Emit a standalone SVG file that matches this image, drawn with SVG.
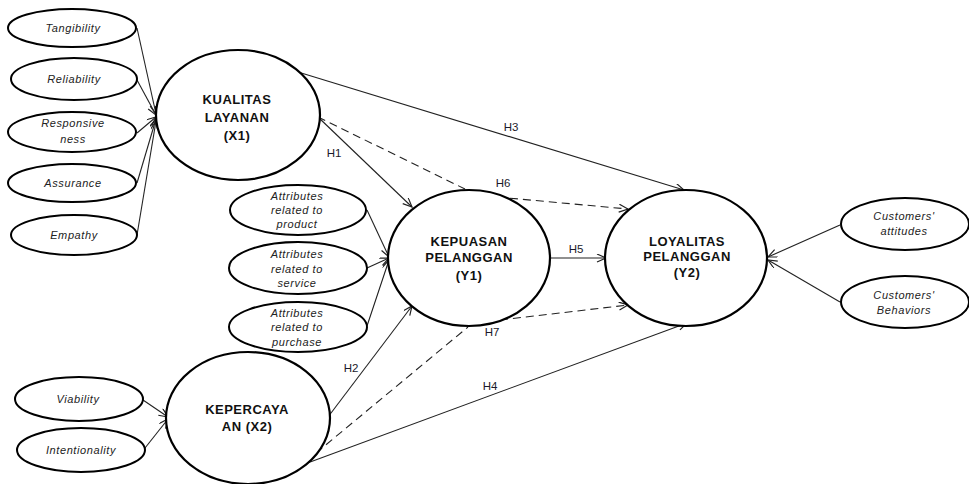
<svg xmlns="http://www.w3.org/2000/svg" width="969" height="484" viewBox="0 0 969 484">
<defs>
<marker id="arr" markerWidth="12" markerHeight="10" refX="10" refY="4" orient="auto" markerUnits="userSpaceOnUse">
<path d="M1,0 L10,4 L1,8" fill="none" stroke="#222" stroke-width="1.2"/>
</marker>
<style>
.big{fill:#fff;stroke:#000;stroke-width:2.2}
.sm{fill:#fff;stroke:#000;stroke-width:2}
.lbl{font-family:"Liberation Sans",Arial,sans-serif;font-size:13px;font-weight:bold;fill:#111;text-anchor:middle;letter-spacing:0.5px}
.ind{font-family:"Liberation Sans",Arial,sans-serif;font-size:11px;font-style:italic;fill:#222;text-anchor:middle;letter-spacing:0.6px}
.h{font-family:"Liberation Sans",Arial,sans-serif;font-size:11.5px;fill:#1a1a2a;text-anchor:middle}
.c{stroke:#222;stroke-width:1.1;fill:none}
.a{marker-end:url(#arr)}
.d{stroke-dasharray:8,5}
</style>
</defs>
<rect width="969" height="484" fill="#fff"/>

<g id="connectors">
<line class="c a" x1="137" y1="28" x2="156" y2="114"/>
<line class="c a" x1="137" y1="80" x2="156" y2="115"/>
<line class="c a" x1="137" y1="133" x2="156" y2="117"/>
<line class="c a" x1="137" y1="183" x2="156" y2="119"/>
<line class="c a" x1="137" y1="235" x2="156" y2="121"/>
<line class="c a" x1="143" y1="400" x2="168" y2="417"/>
<line class="c a" x1="145" y1="448" x2="168" y2="419"/>
<line class="c a" x1="367" y1="210" x2="389" y2="257"/>
<line class="c a" x1="367" y1="268" x2="389" y2="258"/>
<line class="c a" x1="367" y1="326" x2="389" y2="260"/>
<line class="c a" x1="318" y1="117" x2="412" y2="207"/>
<line class="c a" x1="298" y1="72" x2="684" y2="190"/>
<line class="c d" x1="318" y1="117" x2="465" y2="189"/>
<line class="c d a" x1="497" y1="197" x2="628" y2="209"/>
<line class="c a" x1="550" y1="258" x2="606" y2="258"/>
<line class="c a" x1="328" y1="417" x2="412" y2="306"/>
<line class="c d" x1="316" y1="453" x2="468" y2="327"/>
<line class="c d a" x1="500" y1="320" x2="628" y2="305"/>
<line class="c a" x1="302" y1="465" x2="687" y2="323"/>
<line class="c a" x1="840" y1="225" x2="768" y2="257"/>
<line class="c a" x1="840" y1="302" x2="768" y2="260"/>
<text class="h" x="334" y="157">H1</text>
<text class="h" x="511" y="131">H3</text>
<text class="h" x="503" y="187">H6</text>
<text class="h" x="576" y="253">H5</text>
<text class="h" x="351" y="372">H2</text>
<text class="h" x="492" y="336">H7</text>
<text class="h" x="490" y="390">H4</text>
</g>

<g id="tangibility"><ellipse class="sm" cx="72" cy="28" rx="64" ry="19"/><text class="ind" x="73" y="32">Tangibility</text></g>
<g id="reliability"><ellipse class="sm" cx="74" cy="79" rx="63" ry="21"/><text class="ind" x="74" y="83">Reliability</text></g>
<g id="responsiveness"><ellipse class="sm" cx="72" cy="132" rx="64" ry="20"/><text class="ind" x="73" y="127">Responsive</text><text class="ind" x="73" y="143">ness</text></g>
<g id="assurance"><ellipse class="sm" cx="72" cy="183" rx="64" ry="19"/><text class="ind" x="73" y="187">Assurance</text></g>
<g id="empathy"><ellipse class="sm" cx="74" cy="235" rx="63" ry="20"/><text class="ind" x="74" y="239">Empathy</text></g>

<g id="kualitas"><ellipse class="big" cx="238" cy="115" rx="82" ry="65"/><text class="lbl" x="237" y="104">KUALITAS</text><text class="lbl" x="237" y="122">LAYANAN</text><text class="lbl" x="237" y="140">(X1)</text></g>

<g id="attr-product"><ellipse class="sm" cx="298" cy="210" rx="68" ry="25"/><text class="ind" x="297" y="200">Attributes</text><text class="ind" x="297" y="214">related to</text><text class="ind" x="297" y="228">product</text></g>
<g id="attr-service"><ellipse class="sm" cx="298" cy="268" rx="69" ry="26"/><text class="ind" x="297" y="258">Attributes</text><text class="ind" x="297" y="273">related to</text><text class="ind" x="297" y="287">service</text></g>
<g id="attr-purchase"><ellipse class="sm" cx="298" cy="327" rx="69" ry="25"/><text class="ind" x="297" y="317">Attributes</text><text class="ind" x="297" y="331">related to</text><text class="ind" x="297" y="346">purchase</text></g>

<g id="kepuasan"><ellipse class="big" cx="469" cy="258" rx="81" ry="68"/><text class="lbl" x="469" y="246">KEPUASAN</text><text class="lbl" x="469" y="262">PELANGGAN</text><text class="lbl" x="469" y="280">(Y1)</text></g>

<g id="loyalitas"><ellipse class="big" cx="686" cy="258" rx="81" ry="68"/><text class="lbl" x="687" y="246">LOYALITAS</text><text class="lbl" x="687" y="261">PELANGGAN</text><text class="lbl" x="687" y="277">(Y2)</text></g>

<g id="kepercayaan"><ellipse class="big" cx="248" cy="418" rx="82" ry="66"/><text class="lbl" x="247" y="414">KEPERCAYA</text><text class="lbl" x="247" y="431">AN (X2)</text></g>

<g id="viability"><ellipse class="sm" cx="79" cy="399" rx="64" ry="22"/><text class="ind" x="78" y="403">Viability</text></g>
<g id="intentionality"><ellipse class="sm" cx="81" cy="450" rx="64" ry="22"/><text class="ind" x="81" y="454">Intentionality</text></g>

<g id="cust-attitudes"><ellipse class="sm" cx="905" cy="224" rx="64" ry="26"/><text class="ind" x="904" y="220">Customers'</text><text class="ind" x="904" y="235">attitudes</text></g>
<g id="cust-behaviors"><ellipse class="sm" cx="905" cy="302" rx="64" ry="26"/><text class="ind" x="904" y="299">Customers'</text><text class="ind" x="904" y="314">Behaviors</text></g>
</svg>
